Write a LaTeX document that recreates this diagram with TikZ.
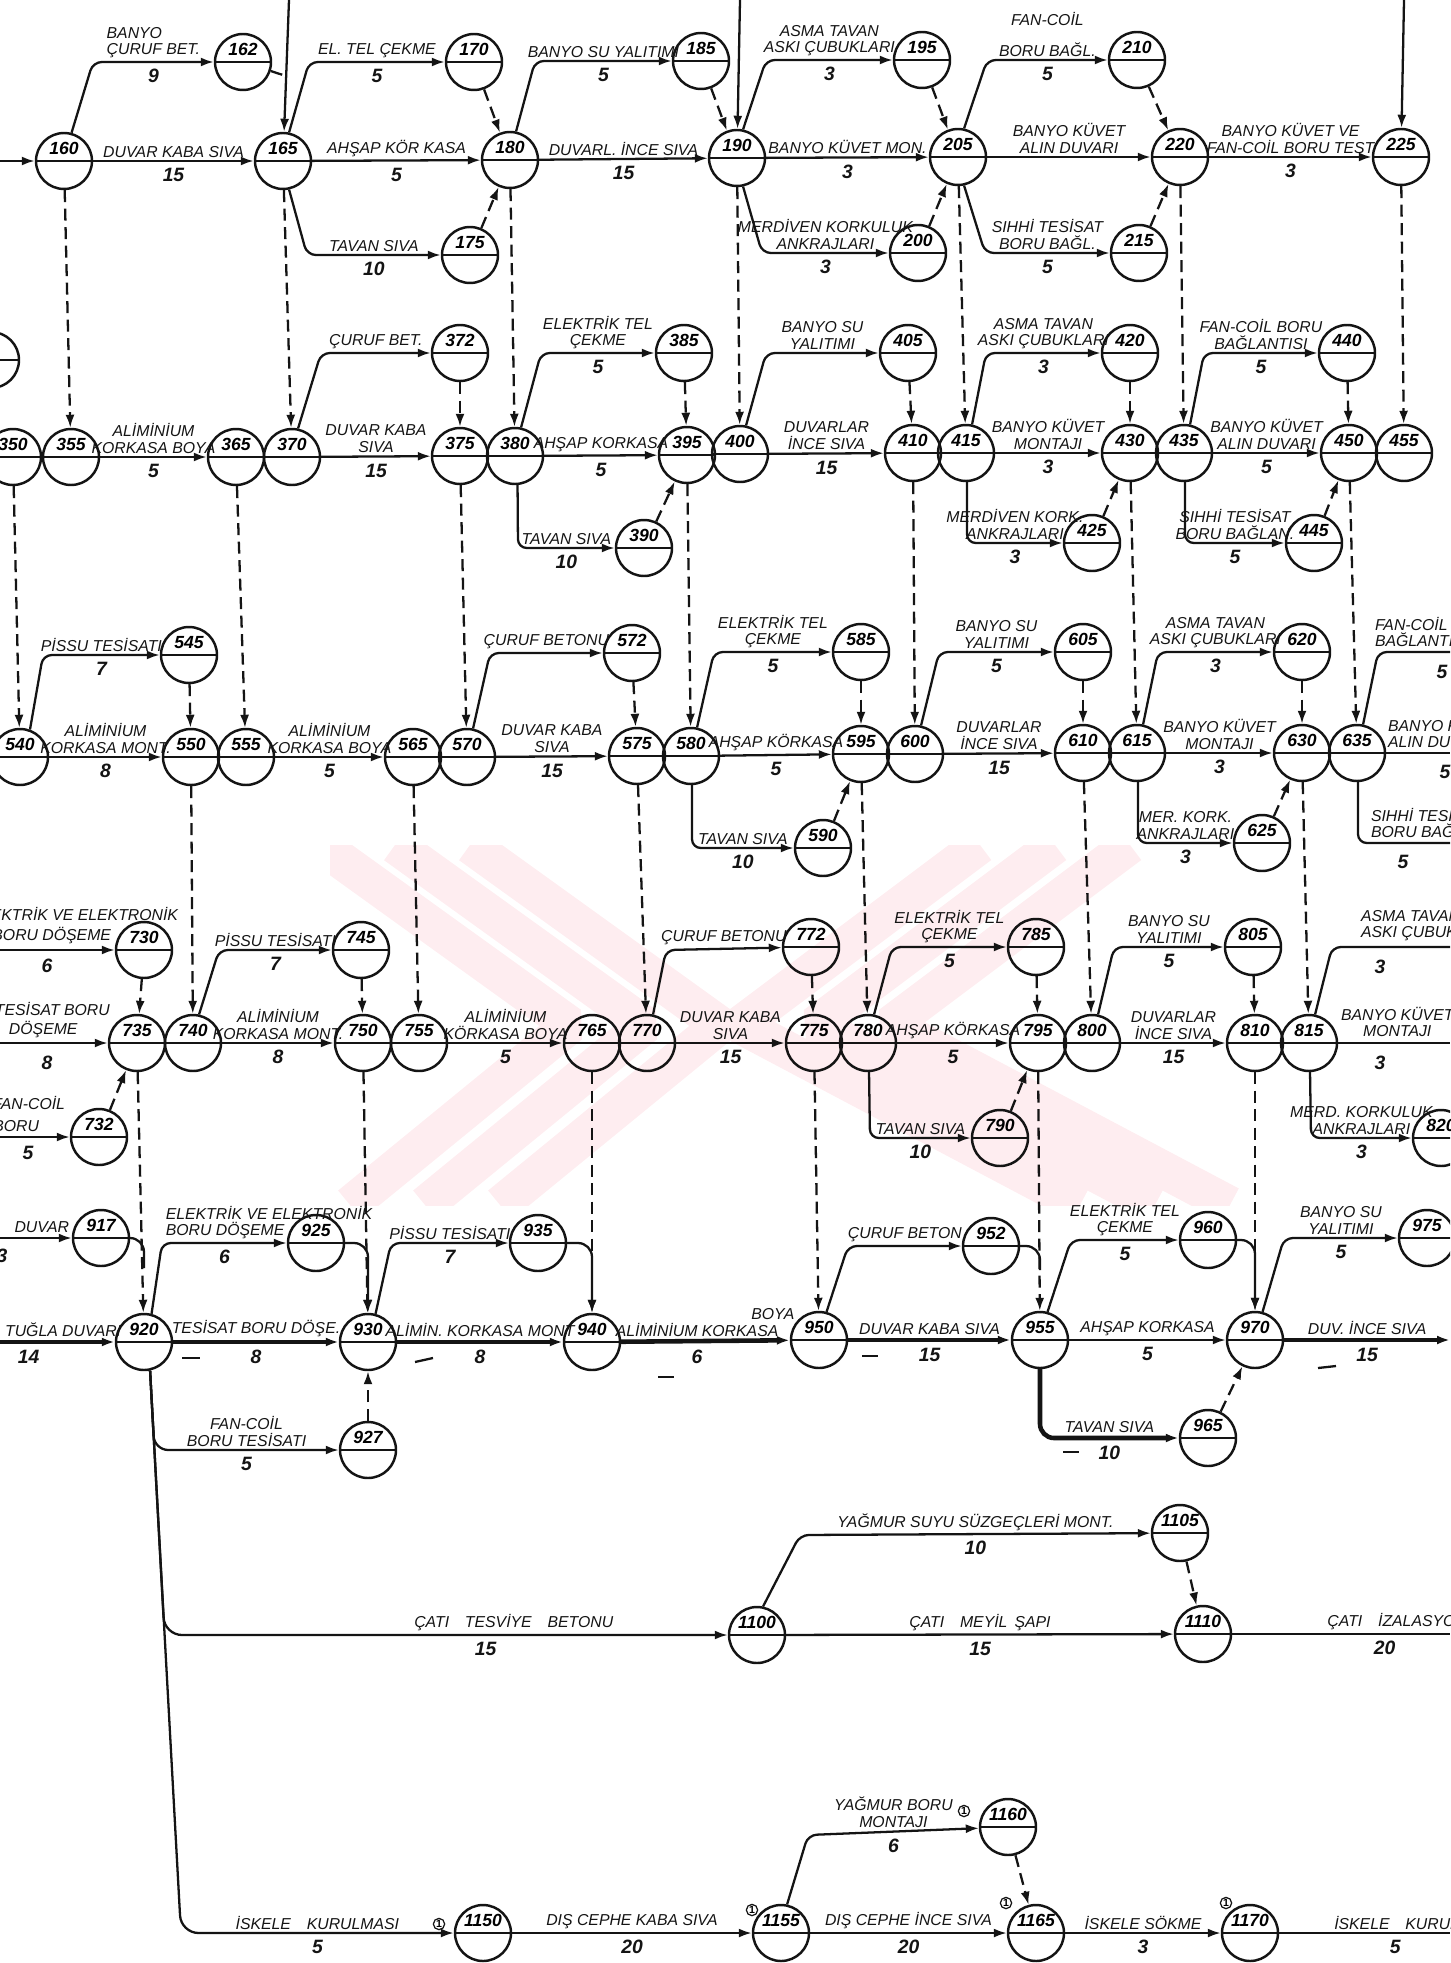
\documentclass[tikz,border=0pt]{standalone}
\usepackage{fontspec}
\setmainfont{Liberation Sans}
\usetikzlibrary{arrows.meta,calc}

\definecolor{ink}{HTML}{141414}
\definecolor{wmpink}{HTML}{FEEDF0}

\tikzset{
  ev/.style={circle, draw=ink, line width=1.4pt, minimum size=1.12cm, inner sep=0pt,
    font=\fontsize{10}{10}\selectfont\itshape\bfseries, text height=0.25cm, text depth=0.52cm,
    path picture={\draw[ink, line width=1.2pt] (path picture bounding box.west) -- (path picture bounding box.east);}},
  act/.style={draw=ink, line width=1.3pt, -{Latex[length=2.6mm,width=1.8mm]}},
  crit/.style={act, line width=2.6pt},
  dum/.style={act, dash pattern=on 2.4mm off 1.3mm},
  dmy/.style={draw=ink, line width=1.3pt, dash pattern=on 2.4mm off 1.3mm},
  ln/.style={draw=ink, line width=1.3pt},
  lab/.style={font=\fontsize{9}{9.5}\selectfont\itshape, inner sep=1.5pt, align=center, text=ink},
  dur/.style={font=\fontsize{11}{11}\selectfont\itshape\bfseries, inner sep=1.5pt, text=ink},
  one/.style={circle, draw=ink, line width=0.7pt, inner sep=0.4pt, font=\fontsize{6}{6}\selectfont\bfseries},
}
\newcommand{\ev}[3]{\node[ev] (n#1) at (#2,#3) {#1};}

\begin{document}
\begin{tikzpicture}[x=0.02cm, y=-0.02cm]
\useasboundingbox (0,0) rectangle (1450,1963);
\clip (0,0) rectangle (1450,1963);

% faint watermark behind the net
\begin{scope}
  \clip (330,845) rectangle (1260,1205);
  \foreach \d in {0,75,150} {
    \draw[wmpink,line width=0.75cm,line join=bevel] (320+\d,845) -- (570+\d,1025) -- (350+\d,1205);
    \draw[wmpink,line width=0.75cm,line join=bevel] (1130-\d,845) -- (890-\d,1025) -- (1230-\d,1205);
  }
\end{scope}

% === row 1 ===
\ev{160}{64}{161}
\ev{162}{243}{62}
\ev{165}{283}{161}
\ev{170}{474}{62}
\ev{175}{470}{255}
\ev{180}{510}{160}
\ev{185}{701}{61}
\ev{190}{737}{158}
\ev{195}{922}{60}
\ev{200}{918}{253}
\ev{205}{958}{157}
\ev{210}{1137}{60}
\ev{215}{1139}{253}
\ev{220}{1180}{157}
\ev{225}{1401}{157}

\coordinate (in1) at (0,161);
\coordinate (top1) at (289,0);
\coordinate (top2) at (740,0);
\coordinate (top3) at (1404,0);
\coordinate (j165) at (286,76);

\draw[act] (in1) -- (n160);
\draw[act] (top1) -- (n165);
\draw[act] (top2) -- (n190);
\draw[act] (top3) -- (n225);

\draw[act,rounded corners=5pt] (n160.75) -- (93,62) -- (n162) node[lab,above,midway,align=left]{BANYO\\ÇURUF BET.} node[dur,below=2pt,midway]{9};
\draw[act] (n160) -- (n165) node[lab,above,midway]{DUVAR KABA SIVA} node[dur,below=2pt,midway]{15};
\draw[dmy] (n162) -- (j165);
\draw[act,rounded corners=5pt] (n165.78) -- (309,62) -- (n170) node[lab,above,midway]{EL. TEL ÇEKME} node[dur,below=2pt,midway]{5};
\draw[act] (n165) -- (n180) node[lab,above,midway]{AHŞAP KÖR KASA} node[dur,below=2pt,midway]{5};
\draw[act,rounded corners=5pt] (n165.-78) -- (307,255) -- (n175) node[lab,above,midway]{TAVAN SIVA} node[dur,below=2pt,midway]{10};
\draw[dum] (n170) -- (n180);
\draw[dum] (n175) -- (n180);
\draw[act,rounded corners=5pt] (n180.78) -- (535,61) -- (n185) node[lab,above,midway]{BANYO SU YALITIMI} node[dur,below=2pt,midway]{5};
\draw[act] (n180) -- (n190) node[lab,above,midway]{DUVARL. İNCE SIVA} node[dur,below=2pt,midway]{15};
\draw[dum] (n185) -- (n190);
\draw[act,rounded corners=5pt] (n190.78) -- (766,60) -- (n195) node[lab,above,midway]{ASMA TAVAN\\ASKI ÇUBUKLARI} node[dur,below=2pt,midway]{3};
\draw[act] (n190) -- (n205) node[lab,above,midway]{BANYO KÜVET MON.} node[dur,below=2pt,midway]{3};
\draw[act,rounded corners=5pt] (n190.-78) -- (762,253) -- (n200) node[lab,above,midway]{MERDİVEN KORKULUK\\ANKRAJLARI} node[dur,below=2pt,midway]{3};
\draw[dum] (n195) -- (n205);
\draw[dum] (n200) -- (n205);
\draw[act,rounded corners=5pt] (n205.78) -- (987,60) -- (n210) node[lab,above,midway]{FAN-COİL\\[8pt]BORU BAĞL.} node[dur,below=2pt,midway]{5};
\draw[act] (n205) -- (n220) node[lab,above,midway]{BANYO KÜVET\\ALIN DUVARI};
\draw[act,rounded corners=5pt] (n205.-78) -- (985,253) -- (n215) node[lab,above,midway]{SIHHİ TESİSAT\\BORU BAĞL.} node[dur,below=2pt,midway]{5};
\draw[dum] (n210) -- (n220);
\draw[dum] (n215) -- (n220);
\draw[act] (n220) -- (n225) node[lab,above,midway]{BANYO KÜVET VE\\FAN-COİL BORU TEST} node[dur,below=2pt,midway]{3};

% === row 2 ===
\node[ev] (nl2) at (-9,360) {};
\ev{350}{13}{457}
\ev{355}{71}{457}
\ev{365}{236}{457}
\ev{370}{292}{457}
\ev{372}{460}{353}
\ev{375}{460}{456}
\ev{380}{515}{456}
\ev{385}{684}{353}
\ev{390}{644}{548}
\ev{395}{687}{455}
\ev{400}{740}{454}
\ev{405}{908}{353}
\ev{410}{913}{453}
\ev{415}{966}{453}
\ev{420}{1130}{353}
\ev{425}{1092}{543}
\ev{430}{1130}{453}
\ev{435}{1184}{453}
\ev{440}{1347}{353}
\ev{445}{1314}{543}
\ev{450}{1349}{453}
\ev{455}{1404}{453}

\draw[dum] (n160) -- (n355);
\draw[dum] (n165) -- (n370);
\draw[dum] (n180) -- (n380);
\draw[dum] (n190) -- (n400);
\draw[dum] (n205) -- (n415);
\draw[dum] (n220) -- (n435);
\draw[dum] (n225) -- (n455);

\draw[act] (n355) -- (n365) node[lab,above,midway]{ALİMİNİUM\\KORKASA BOYA} node[dur,below=2pt,midway]{5};
\draw[act,rounded corners=5pt] (n370.78) -- (321,353) -- (n372) node[lab,above,midway]{ÇURUF BET.};
\draw[act] (n370) -- (n375) node[lab,above,midway]{DUVAR KABA\\SIVA} node[dur,below=2pt,midway]{15};
\draw[dum] (n372) -- (n375);
\draw[act,rounded corners=5pt] (n380.78) -- (541,353) -- (n385) node[lab,above,midway]{ELEKTRİK TEL\\ÇEKME} node[dur,below=2pt,midway]{5};
\draw[act] (n380) -- (n395) node[lab,above,midway]{AHŞAP KORKASA} node[dur,below=2pt,midway]{5};
\draw[act,rounded corners=5pt] (n380.-85) -- (518,548) -- (n390) node[lab,above,midway]{TAVAN SIVA} node[dur,below=2pt,midway]{10};
\draw[dum] (n385) -- (n395);
\draw[dum] (n390) -- (n395);
\draw[act,rounded corners=5pt] (n400.78) -- (766,353) -- (n405) node[lab,above,midway]{BANYO SU\\YALITIMI};
\draw[act] (n400) -- (n410) node[lab,above,midway]{DUVARLAR\\İNCE SIVA} node[dur,below=2pt,midway]{15};
\draw[dum] (n405) -- (n410);
\draw[act,rounded corners=5pt] (n415.78) -- (986,353) -- (n420) node[lab,above,midway]{ASMA TAVAN\\ASKI ÇUBUKLARI} node[dur,below=2pt,midway]{3};
\draw[act] (n415) -- (n430) node[lab,above,midway]{BANYO KÜVET\\MONTAJI} node[dur,below=2pt,midway]{3};
\draw[act,rounded corners=5pt] (n415.-88) -- (967,543) -- (n425) node[lab,above,midway]{MERDİVEN KORK.\\ANKRAJLARI} node[dur,below=2pt,midway]{3};
\draw[dum] (n420) -- (n430);
\draw[dum] (n425) -- (n430);
\draw[act,rounded corners=5pt] (n435.78) -- (1204,353) -- (n440) node[lab,above,midway]{FAN-COİL BORU\\BAĞLANTISI} node[dur,below=2pt,midway]{5};
\draw[act] (n435) -- (n450) node[lab,above,midway]{BANYO KÜVET\\ALIN DUVARI} node[dur,below=2pt,midway]{5};
\draw[act,rounded corners=5pt] (n435.-88) -- (1185,543) -- (n445) node[lab,above,midway]{SIHHİ TESİSAT\\BORU BAĞLAN.} node[dur,below=2pt,midway]{5};
\draw[dum] (n440) -- (n450);
\draw[dum] (n445) -- (n450);

% === row 3 ===
\ev{540}{20}{757}
\ev{545}{189}{655}
\ev{550}{191}{757}
\ev{555}{246}{757}
\ev{565}{413}{757}
\ev{570}{467}{757}
\ev{572}{632}{653}
\ev{575}{637}{756}
\ev{580}{691}{756}
\ev{585}{861}{652}
\ev{590}{823}{848}
\ev{595}{861}{754}
\ev{600}{915}{754}
\ev{605}{1083}{652}
\ev{610}{1083}{753}
\ev{615}{1137}{753}
\ev{620}{1302}{652}
\ev{625}{1262}{843}
\ev{630}{1302}{753}
\ev{635}{1357}{753}

\draw[dum] (n350) -- (n540);
\draw[dum] (n365) -- (n555);
\draw[dum] (n375) -- (n570);
\draw[dum] (n395) -- (n580);
\draw[dum] (n410) -- (n600);
\draw[dum] (n430) -- (n615);
\draw[dum] (n450) -- (n635);

\draw[act,rounded corners=5pt] (n540.70) -- (43,655) -- (n545) node[lab,above,midway]{PİSSU TESİSATI} node[dur,below=2pt,midway]{7};
\draw[act] (n540) -- (n550) node[lab,above,midway]{ALİMİNİUM\\KORKASA MONT.} node[dur,below=2pt,midway]{8};
\draw[dum] (n545) -- (n550);
\draw[act] (n555) -- (n565) node[lab,above,midway]{ALİMİNİUM\\KORKASA BOYA} node[dur,below=2pt,midway]{5};
\draw[act,rounded corners=5pt] (n570.78) -- (490,653) -- (n572) node[lab,above,midway]{ÇURUF BETONU};
\draw[act] (n570) -- (n575) node[lab,above,midway]{DUVAR KABA\\SIVA} node[dur,below=2pt,midway]{15};
\draw[dum] (n572) -- (n575);
\draw[act,rounded corners=5pt] (n580.78) -- (714,652) -- (n585) node[lab,above,midway]{ELEKTRİK TEL\\ÇEKME} node[dur,below=2pt,midway]{5};
\draw[act] (n580) -- (n595) node[lab,above,midway]{AHŞAP KÖRKASA} node[dur,below=2pt,midway]{5};
\draw[act,rounded corners=5pt] (n580.-88) -- (692,848) -- (n590) node[lab,above,midway]{TAVAN SIVA} node[dur,below=2pt,midway]{10};
\draw[dum] (n585) -- (n595);
\draw[dum] (n590) -- (n595);
\draw[act,rounded corners=5pt] (n600.78) -- (939,652) -- (n605) node[lab,above,midway]{BANYO SU\\YALITIMI} node[dur,below=2pt,midway]{5};
\draw[act] (n600) -- (n610) node[lab,above,midway]{DUVARLAR\\İNCE SIVA} node[dur,below=2pt,midway]{15};
\draw[dum] (n605) -- (n610);
\draw[act,rounded corners=5pt] (n615.78) -- (1158,652) -- (n620) node[lab,above,midway]{ASMA TAVAN\\ASKI ÇUBUKLARI} node[dur,below=2pt,midway]{3};
\draw[act] (n615) -- (n630) node[lab,above,midway]{BANYO KÜVET\\MONTAJI} node[dur,below=2pt,midway]{3};
\draw[act,rounded corners=5pt] (n615.-88) -- (1138,843) -- (n625) node[lab,above,midway]{MER. KORK.\\ANKRAJLARI} node[dur,below=2pt,midway]{3};
\draw[dum] (n620) -- (n630);
\draw[dum] (n625) -- (n630);

% leaving the sheet on the right
\coordinate (out3a) at (1450,652);
\coordinate (out3b) at (1450,753);
\coordinate (out3c) at (1450,843);
\draw[ln,rounded corners=5pt] (n635.78) -- (1378,652) -- (out3a);
\draw[ln] (n635) -- (out3b);
\draw[ln,rounded corners=5pt] (n635.-88) -- (1358,843) -- (out3c);
\node[lab,anchor=south west,align=left] (t3a) at (1372,650) {FAN-COİL BORU\\BAĞLANTISI};
\node[dur] (d3a) at (1442,672) {5};
\node[lab,anchor=south west,align=left] (t3b) at (1385,751) {BANYO KÜVET\\ALIN DUVARI};
\node[dur] (d3b) at (1445,772) {5};
\node[lab,anchor=south west,align=left] (t3c) at (1368,841) {SIHHİ TESİSAT\\BORU BAĞLAN.};
\node[dur] (d3c) at (1403,862) {5};

% === row 4 ===
\ev{730}{144}{950}
\ev{735}{137}{1043}
\ev{732}{99}{1137}
\ev{740}{193}{1043}
\ev{745}{361}{950}
\ev{750}{363}{1043}
\ev{755}{419}{1043}
\ev{765}{592}{1043}
\ev{770}{647}{1043}
\ev{772}{811}{947}
\ev{775}{814}{1043}
\ev{780}{868}{1043}
\ev{785}{1036}{947}
\ev{790}{1000}{1138}
\ev{795}{1038}{1043}
\ev{800}{1092}{1043}
\ev{805}{1253}{947}
\ev{810}{1255}{1043}
\ev{815}{1309}{1043}
\ev{820}{1441}{1138}

\draw[dum] (n550) -- (n740);
\draw[dum] (n565) -- (n755);
\draw[dum] (n575) -- (n770);
\draw[dum] (n595) -- (n780);
\draw[dum] (n610) -- (n800);
\draw[dum] (n630) -- (n815);

\coordinate (in4a) at (0,950);
\coordinate (in4b) at (0,1043);
\coordinate (in4c) at (0,1137);
\draw[act] (in4a) -- (n730);
\node[lab,anchor=south east] (t4a) at (181,924) {ELEKTRİK VE ELEKTRONİK};
\node[lab,anchor=south east] (t4b) at (114,947) {BORU DÖŞEME};
\node[dur] (d4a) at (47,966) {6};
\draw[act] (in4b) -- (n735);
\node[lab,anchor=south west] (t4c) at (-8,1019) {TESİSAT BORU};
\node[lab,anchor=south west] (t4d) at (6,1041) {DÖŞEME};
\node[dur] (d4b) at (47,1063) {8};
\draw[act] (in4c) -- (n732);
\node[lab,anchor=south east] (t4e) at (68,1113) {FAN-COİL};
\node[lab,anchor=south east] (t4f) at (42,1135) {BORU};
\node[dur] (d4c) at (28,1153) {5};

\draw[dum] (n730) -- (n735);
\draw[dum] (n732) -- (n735);
\draw[act,rounded corners=5pt] (n740.78) -- (219,950) -- (n745) node[lab,above,midway]{PİSSU TESİSATI} node[dur,below=2pt,midway]{7};
\draw[act] (n740) -- (n750) node[lab,above,midway]{ALİMİNİUM\\KORKASA MONT.} node[dur,below=2pt,midway]{8};
\draw[dum] (n745) -- (n750);
\draw[act] (n755) -- (n765) node[lab,above,midway]{ALİMİNİUM\\KÖRKASA BOYA} node[dur,below=2pt,midway]{5};
\draw[act,rounded corners=5pt] (n770.78) -- (666,950) -- (n772) node[lab,above,midway]{ÇURUF BETONU};
\draw[act] (n770) -- (n775) node[lab,above,midway]{DUVAR KABA\\SIVA} node[dur,below=2pt,midway]{15};
\draw[dum] (n772) -- (n775);
\draw[act,rounded corners=5pt] (n780.78) -- (892,947) -- (n785) node[lab,above,midway]{ELEKTRİK TEL\\ÇEKME} node[dur,below=2pt,midway]{5};
\draw[act] (n780) -- (n795) node[lab,above,midway]{AHŞAP KÖRKASA} node[dur,below=2pt,midway]{5};
\draw[act,rounded corners=5pt] (n780.-88) -- (870,1138) -- (n790) node[lab,above,midway]{TAVAN SIVA} node[dur,below=2pt,midway]{10};
\draw[dum] (n785) -- (n795);
\draw[dum] (n790) -- (n795);
\draw[act,rounded corners=5pt] (n800.78) -- (1114,947) -- (n805) node[lab,above,midway]{BANYO SU\\YALITIMI} node[dur,below=2pt,midway]{5};
\draw[act] (n800) -- (n810) node[lab,above,midway]{DUVARLAR\\İNCE SIVA} node[dur,below=2pt,midway]{15};
\draw[dum] (n805) -- (n810);
\coordinate (out4a) at (1450,947);
\coordinate (out4b) at (1450,1043);
\draw[ln,rounded corners=5pt] (n815.78) -- (1332,947) -- (out4a);
\node[lab,anchor=south west,align=left] (t4g) at (1358,944) {ASMA TAVAN\\ASKI ÇUBUKLARI};
\node[dur] (d4d) at (1380,967) {3};
\draw[ln] (n815) -- (out4b);
\node[lab,anchor=south west] (t4h) at (1338,1040) {BANYO KÜVET\\MONTAJI};
\node[dur] (d4e) at (1380,1063) {3};
\draw[act,rounded corners=5pt] (n815.-88) -- (1311,1138) -- (n820) node[lab,above,midway]{MERD. KORKULUK\\ANKRAJLARI} node[dur,below=2pt,midway]{3};

% === row 5 ===
\ev{917}{101}{1238}
\ev{920}{144}{1342}
\ev{925}{316}{1243}
\ev{927}{368}{1450}
\ev{930}{368}{1342}
\ev{935}{538}{1243}
\ev{940}{592}{1342}
\ev{950}{819}{1340}
\ev{952}{991}{1246}
\ev{955}{1040}{1340}
\ev{960}{1208}{1240}
\ev{965}{1208}{1438}
\ev{970}{1255}{1340}
\ev{975}{1427}{1238}

\draw[dum] (n735) -- (n920);
\draw[dum] (n750) -- (n930);
\draw[dum] (n765) -- (n940);
\draw[dum] (n775) -- (n950);
\draw[dum] (n795) -- (n955);
\draw[dum] (n810) -- (n970);

\coordinate (in5a) at (0,1238);
\coordinate (in5b) at (0,1342);
\coordinate (j920) at (144,1268);
\coordinate (j955) at (1040,1270);
\coordinate (out5) at (1450,1340);

\draw[act] (in5a) -- (n917);
\node[lab,anchor=south east] (t5a) at (72,1236) {DUVAR};
\node[dur] (d5a) at (2,1256) {3};
\draw[ln,rounded corners=8pt] (n917) -| (j920);
\draw[crit] (in5b) -- (n920) node[lab,above,pos=0.55]{TUĞLA DUVARI} node[dur,below=2pt,pos=0.25]{14};
\draw[act,rounded corners=5pt] (n920.75) -- (162,1243) -- (n925) node[lab,pos=0,anchor=south west,align=left]{ELEKTRİK VE ELEKTRONİK\\BORU DÖŞEME} node[dur,below=2pt,midway]{6};
\draw[crit] (n920) -- (n930) node[lab,above,midway]{TESİSAT BORU DÖŞE.} node[dur,below=2pt,midway]{8};
\draw[act,rounded corners=8pt] (n920.-78) -- (154.3,1450) -- (n927) node[lab,above,midway]{FAN-COİL\\BORU TESİSATI} node[dur,below=2pt,midway]{5};
\draw[act,rounded corners=8pt] (n925) -| (n930);
\draw[dum] (n927) -- (n930);
\draw[act,rounded corners=5pt] (n930.75) -- (391,1243) -- (n935) node[lab,above,midway]{PİSSU TESİSATI} node[dur,below=2pt,midway]{7};
\draw[crit] (n930) -- (n940) node[lab,above,midway]{ALİMİN. KORKASA MONT} node[dur,below=2pt,midway]{8};
\draw[act,rounded corners=8pt] (n935) -| (n940);
\draw[crit] (n940) -- (n950) node[lab,above,pos=0.45]{ALİMİNİUM KORKASA} node[dur,below=2pt,pos=0.45]{6} node[lab,above=9pt,pos=0.9]{BOYA};
\draw[act,rounded corners=5pt] (n950.75) -- (848,1246) -- (n952) node[lab,above,midway]{ÇURUF BETON};
\draw[crit] (n950) -- (n955) node[lab,above,midway]{DUVAR KABA SIVA} node[dur,below=2pt,midway]{15};
\draw[ln,rounded corners=8pt] (n952) -| (j955);
\draw[act,rounded corners=5pt] (n955.75) -- (1071,1240) -- (n960) node[lab,above,midway]{ELEKTRİK TEL\\ÇEKME} node[dur,below=2pt,midway]{5};
\draw[act] (n955) -- (n970) node[lab,above,midway]{AHŞAP KORKASA} node[dur,below=2pt,midway]{5};
\draw[crit,rounded corners=8pt] (n955) |- (n965) node[lab,above,pos=0.75]{TAVAN SIVA} node[dur,below=2pt,pos=0.75]{10};
\draw[act,rounded corners=8pt] (n960) -| (n970);
\draw[dum] (n965) -- (n970);
\draw[act,rounded corners=5pt] (n970.75) -- (1284,1238) -- (n975) node[lab,above,midway]{BANYO SU\\YALITIMI} node[dur,below=2pt,midway]{5};
\draw[crit] (n970) -- (out5) node[lab,above,midway]{DUV. İNCE SIVA} node[dur,below=2pt,midway]{15};

% short ticks under the critical durations
\draw[ln] (182,1358) -- (200,1358);
\draw[ln] (415,1362) -- (433,1358);
\draw[ln] (658,1377) -- (674,1377);
\draw[ln] (862,1356) -- (878,1356);
\draw[ln] (1063,1452) -- (1079,1452);
\draw[ln] (1318,1368) -- (1336,1366);

% === roof and facade chains ===
\ev{1100}{757}{1635}
\ev{1105}{1180}{1533}
\ev{1110}{1203}{1634}
\ev{1150}{483}{1933}
\ev{1155}{781}{1933}
\ev{1160}{1008}{1827}
\ev{1165}{1036}{1933}
\ev{1170}{1250}{1933}

\coordinate (out6) at (1450,1634);
\coordinate (out7) at (1450,1933);

\draw[act,rounded corners=10pt] (n920.-78) -- (164.5,1635) -- (n1100) node[lab,above,pos=0.62]{ÇATI\quad TESVİYE\quad BETONU} node[dur,below=2pt,pos=0.57]{15};
\draw[act,rounded corners=5pt] (n1100.78) -- (800,1535) -- (n1105) node[lab,above,midway]{YAĞMUR SUYU SÜZGEÇLERİ MONT.} node[dur,below=2pt,midway]{10};
\draw[act] (n1100) -- (n1110) node[lab,above,midway]{ÇATI\quad MEYİL\, ŞAPI} node[dur,below=2pt,midway]{15};
\draw[dum] (n1105) -- (n1110);
\draw[ln] (n1110) -- (out6) node[lab,pos=0.42,anchor=south west]{ÇATI\quad İZALASYONU} node[dur,below=2pt,pos=0.7]{20};

\draw[act,rounded corners=10pt] (n920.-78) -- (181,1933) -- (n1150) node[lab,above,midway]{İSKELE\quad KURULMASI} node[dur,below=2pt,midway]{5};
\draw[act] (n1150) -- (n1155) node[lab,above,midway]{DIŞ CEPHE KABA SIVA} node[dur,below=2pt,midway]{20};
\draw[act] (n1155) -- (n1165) node[lab,above,midway]{DIŞ CEPHE İNCE SIVA} node[dur,below=2pt,midway]{20};
\draw[act] (n1165) -- (n1170) node[lab,above,midway]{İSKELE SÖKME} node[dur,below=2pt,midway]{3};
\draw[ln] (n1170) -- (out7) node[lab,pos=0.3,anchor=south west]{İSKELE\quad KURULMASI} node[dur,below=2pt,pos=0.68]{5};
\draw[act,rounded corners=5pt] (n1155.78) -- (808,1835) -- (n1160) node[lab,above,midway]{YAĞMUR BORU\\MONTAJI} node[dur,below=2pt,midway]{6};
\draw[dum] (n1160) -- (n1165);

\node[one] (o1) at (439,1924) {1};
\node[one] (o2) at (752,1910) {1};
\node[one] (o3) at (964,1811) {1};
\node[one] (o4) at (1006,1903) {1};
\node[one] (o5) at (1226,1903) {1};

\end{tikzpicture}
\end{document}
